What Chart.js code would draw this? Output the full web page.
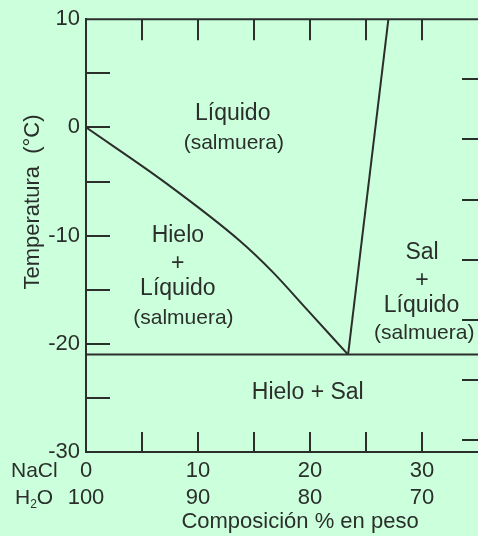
<!doctype html>
<html>

<head>
	<title>Diagrama de fases NaCl - H2O</title>
	<script src="https://cdn.jsdelivr.net/npm/chart.js@4/dist/chart.umd.min.js"></script>
	<style>
	body {
		margin: 0;
		background: #ccffdc;
	}
	canvas {
		display: block;
	}
	</style>
</head>

<body>
	<canvas id="chart" width="478" height="536"></canvas>
	<script>
		// composition axis (weight %) and temperature axis (degC)
		var naclTicks = [0, 10, 20, 30];
		var h2oTicks = [100, 90, 80, 70];
		var tempTicks = [10, 0, -10, -20, -30];
		var minorComp = [5, 10, 15, 20, 25, 30];
		var minorTemp = [5, 0, -5, -10, -15, -20, -25];
		var fahrTicks = [40, 30, 20, 10, 0, -10, -20];

		// phase boundaries
		var liquidusComp = [0, 7.2, 13.75, 16.7, 19.7, 23.4];
		var liquidusTemp = [0, -5.2, -10.5, -13.4, -16.8, -21];
		var solubComp = [23.4, 27];
		var solubTemp = [-21, 10];
		var eutecticComp = [0, 35];
		var eutecticTemp = [-21, -21];

		var ink = '#2b2f2c';
		var family = "'Liberation Sans', Arial, sans-serif";
		Chart.defaults.font.family = family;

		function pts(xs, ys) {
			return xs.map(function(v, i) {
				return {x: v, y: ys[i]};
			});
		}

		function lineSet(data, smooth) {
			return {
				data: data,
				showLine: true,
				borderColor: ink,
				borderWidth: 2,
				pointRadius: 0,
				cubicInterpolationMode: smooth ? 'monotone' : 'default'
			};
		}

		var regionLabels = [
			{text: 'Líquido', x: 13.1, y: 1.3, size: 23},
			{text: '(salmuera)', x: 13.2, y: -1.5, size: 21},
			{text: 'Hielo', x: 8.2, y: -10.0, size: 23},
			{text: '+', x: 8.2, y: -12.55, size: 23},
			{text: 'Líquido', x: 8.2, y: -14.9, size: 23},
			{text: '(salmuera)', x: 8.7, y: -17.6, size: 21},
			{text: 'Sal', x: 30, y: -11.6, size: 23},
			{text: '+', x: 30, y: -14.2, size: 23},
			{text: 'Líquido', x: 29.95, y: -16.5, size: 23},
			{text: '(salmuera)', x: 30.2, y: -19.0, size: 21},
			{text: 'Hielo + Sal', x: 19.8, y: -24.5, size: 23}
		];

		var phaseDecor = {
			id: 'phaseDecor',
			afterDraw: function(chart) {
				var ctx = chart.ctx;
				var a = chart.chartArea;
				var sx = chart.scales.x;
				var sy = chart.scales.y;
				var sf = chart.scales.yF;
				ctx.save();
				ctx.strokeStyle = ink;
				ctx.lineWidth = 2;
				ctx.beginPath();
				ctx.moveTo(a.left - 1, a.top);
				ctx.lineTo(a.right, a.top);
				minorComp.forEach(function(v) {
					var px = Math.round(sx.getPixelForValue(v));
					ctx.moveTo(px, a.top);
					ctx.lineTo(px, a.top + 21);
					ctx.moveTo(px, a.bottom);
					ctx.lineTo(px, a.bottom - 20);
				});
				minorTemp.forEach(function(v) {
					var py = Math.round(sy.getPixelForValue(v));
					ctx.moveTo(a.left, py);
					ctx.lineTo(a.left + 24, py);
				});
				fahrTicks.forEach(function(v) {
					var py = Math.round(sf.getPixelForValue(v));
					ctx.moveTo(a.right - 16, py);
					ctx.lineTo(a.right, py);
				});
				ctx.stroke();

				ctx.fillStyle = ink;
				ctx.textAlign = 'center';
				ctx.textBaseline = 'middle';
				regionLabels.forEach(function(l) {
					ctx.font = l.size + 'px ' + family;
					ctx.fillText(l.text, sx.getPixelForValue(l.x), sy.getPixelForValue(l.y));
				});

				// axis titles
				ctx.font = '22px ' + family;
				ctx.fillText('Composición % en peso', 300, 522);
				ctx.save();
				ctx.translate(33, 202);
				ctx.rotate(-Math.PI / 2);
				ctx.fillText('Temperatura  (°C)', 0, 0);
				ctx.restore();

				// row captions under the composition axis
				ctx.textAlign = 'left';
				ctx.font = '21px ' + family;
				ctx.fillText('NaCl', 11, 471);
				ctx.fillText('H', 15, 498);
				var hw = ctx.measureText('H').width;
				ctx.font = '12px ' + family;
				ctx.fillText('2', 15 + hw, 505);
				var sw = ctx.measureText('2').width;
				ctx.font = '21px ' + family;
				ctx.fillText('O', 15 + hw + sw, 498);
				ctx.restore();
			}
		};

		window.onload = function() {
			var ctx = document.getElementById('chart').getContext('2d');
			new Chart(ctx, {
				type: 'scatter',
				data: {
					datasets: [
						lineSet(pts(liquidusComp, liquidusTemp), true),
						lineSet(pts(solubComp, solubTemp), false),
						lineSet(pts(eutecticComp, eutecticTemp), false)
					]
				},
				options: {
					responsive: false,
					devicePixelRatio: 1,
					animation: false,
					layout: {
						padding: {top: 14, right: 0, left: 0, bottom: 0}
					},
					plugins: {
						legend: {display: false},
						tooltip: {enabled: false}
					},
					scales: {
						x: {
							type: 'linear',
							position: 'bottom',
							min: 0,
							max: 35,
							afterBuildTicks: function(s) {
								s.ticks = naclTicks.map(function(v) { return {value: v}; });
							},
							afterFit: function(s) { s.height = 84; },
							grid: {display: false, drawTicks: false},
							border: {display: true, color: ink, width: 2},
							ticks: {
								color: ink,
								padding: 6,
								maxRotation: 0,
								autoSkip: false,
								font: {size: 22},
								callback: function(v) {
									var i = naclTicks.indexOf(v);
									return [String(naclTicks[i]), String(h2oTicks[i])];
								}
							}
						},
						y: {
							type: 'linear',
							position: 'left',
							min: -30,
							max: 10,
							afterBuildTicks: function(s) {
								s.ticks = tempTicks.map(function(v) { return {value: v}; });
							},
							afterFit: function(s) { s.width = 86; },
							grid: {display: false, drawTicks: false},
							border: {display: true, color: ink, width: 2},
							ticks: {
								color: ink,
								padding: 6,
								font: {size: 22}
							}
						},
						yF: {
							type: 'linear',
							position: 'right',
							display: false,
							min: -22,
							max: 50
						}
					}
				},
				plugins: [phaseDecor]
			});
		};
	</script>
</body>

</html>
